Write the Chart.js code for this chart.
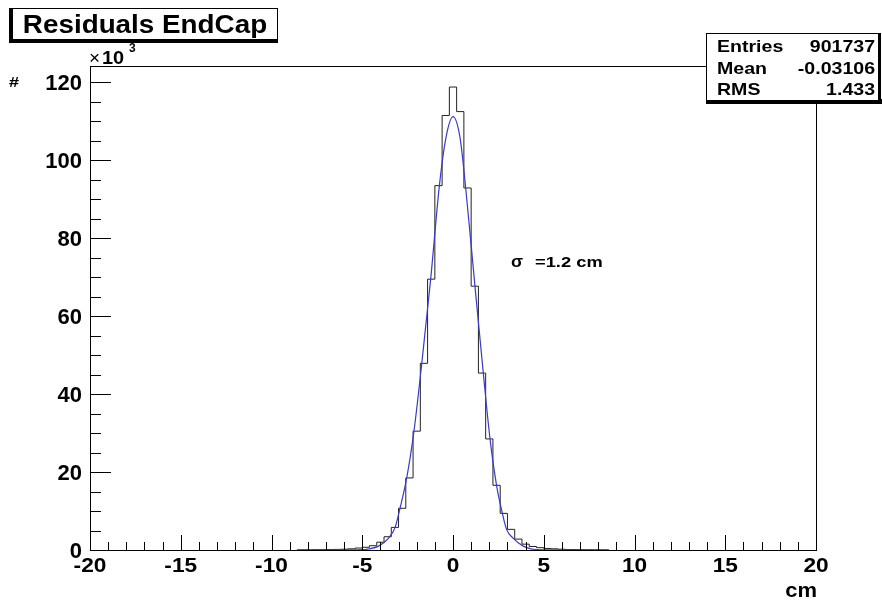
<!DOCTYPE html>
<html>
<head>
<meta charset="utf-8">
<script src="https://cdn.jsdelivr.net/npm/chart.js@4/dist/chart.umd.min.js"></script>
<style>
  body { margin: 0; background: #fff; }
  canvas { display: block; }
</style>
</head>
<body>
<canvas id="residuals_chart" width="882" height="603"></canvas>
<script>
// histogram bins (centres in cm, contents in thousands of entries)
var binCenters = [-8.4, -8.0, -7.6, -7.2, -6.8, -6.4, -6.0, -5.6, -5.2, -4.8, -4.4, -4.0, -3.6, -3.2, -2.8, -2.4, -2.0, -1.6, -1.2, -0.8, -0.4,
                  0.0, 0.4, 0.8, 1.2, 1.6, 2.0, 2.4, 2.8, 3.2, 3.6, 4.0, 4.4, 4.8, 5.2, 5.6, 6.0, 6.4, 6.8, 7.2, 7.6, 8.0, 8.4];
var binCounts = [0.05, 0.05, 0.08, 0.1, 0.12, 0.15, 0.2, 0.3, 0.5, 0.7, 1.1, 2.0, 3.4, 5.8, 10.7, 18.5, 30.5, 47.9, 69.5, 93.5, 111.5,
                 118.8, 112.5, 92.9, 67.7, 45.4, 28.5, 16.6, 9.4, 5.3, 2.8, 1.5, 0.9, 0.6, 0.4, 0.3, 0.2, 0.12, 0.1, 0.08, 0.06, 0.05, 0.04];
var binWidth = 0.4;

// fitted curve
var fitX = [-8.5, -5.2, -4.6, -4.1, -3.56, -3.19, -2.92, -2.55, -2.15, -1.72, -1.23, -0.75, -0.38, 0.0, 0.38, 0.70, 1.21, 1.67, 2.04, 2.40, 2.72, 2.95, 3.32, 3.87, 4.3, 5.0, 8.5];
var fitY = [0.0, 0.05, 0.3, 1.0, 3.0, 5.8, 10.7, 18.5, 30.5, 47.9, 69.5, 93.5, 106.0, 111.2, 106.0, 92.9, 67.7, 45.4, 28.5, 16.6, 9.4, 5.3, 3.0, 1.0, 0.3, 0.05, 0.0];

var xTicks = [-20, -15, -10, -5, 0, 5, 10, 15, 20];
var yTicks = [0, 20, 40, 60, 80, 100, 120];

var statNames = ["Entries", "Mean", "RMS"];
var statValues = ["901737", "-0.03106", "1.433"];

var histPoints = [];
binCenters.forEach(function (c, i) {
  histPoints.push({ x: c - binWidth / 2, y: binCounts[i] });
});
histPoints.push({ x: binCenters[binCenters.length - 1] + binWidth / 2, y: binCounts[binCounts.length - 1] });

var fitPoints = fitX.map(function (x, i) { return { x: x, y: fitY[i] }; });

var FONT = '"Liberation Sans", Arial, Helvetica, sans-serif';

function text(ctx, str, x, y, size, align, sx, weight) {
  ctx.save();
  ctx.font = (weight || 'bold') + ' ' + size + 'px ' + FONT;
  ctx.textBaseline = 'alphabetic';
  ctx.textAlign = align;
  ctx.translate(x, y);
  ctx.scale(sx || 1, 1);
  ctx.fillText(str, 0, 0);
  ctx.restore();
}

var rootFrame = {
  id: 'rootFrame',
  afterDraw: function (chart) {
    var ctx = chart.ctx;
    var a = chart.chartArea;
    var xs = chart.scales.x, ys = chart.scales.y;
    ctx.save();
    ctx.strokeStyle = '#000';
    ctx.fillStyle = '#000';
    ctx.lineWidth = 1;

    // frame
    ctx.strokeRect(Math.round(a.left) + 0.5, Math.round(a.top) + 0.5, Math.round(a.right - a.left), Math.round(a.bottom - a.top));

    // x ticks (inside, upward)
    for (var v = -20; v <= 20; v++) {
      var px = Math.round(xs.getPixelForValue(v)) + 0.5;
      var len = (v % 5 === 0) ? 15 : 8;
      ctx.beginPath();
      ctx.moveTo(px, a.bottom);
      ctx.lineTo(px, a.bottom - len);
      ctx.stroke();
    }
    // y ticks (inside, to the right)
    for (var w = 0; w <= 120; w += 5) {
      var py = Math.round(ys.getPixelForValue(w)) + 0.5;
      var l2 = (w % 20 === 0) ? 21 : 11;
      ctx.beginPath();
      ctx.moveTo(a.left, py);
      ctx.lineTo(a.left + l2, py);
      ctx.stroke();
    }

    // tick labels
    xTicks.forEach(function (t) {
      text(ctx, String(t), xs.getPixelForValue(t), 572, 21, 'center', 1.08);
    });
    yTicks.forEach(function (t) {
      text(ctx, String(t), 82, ys.getPixelForValue(t) + 8, 22, 'right', 1);
    });

    // axis titles
    text(ctx, 'cm', 817, 597, 20, 'right', 1.1);
    text(ctx, '#', 9, 87, 15, 'left', 1.2);
    text(ctx, '\u00d7', 89, 64, 19, 'left', 1, 'normal');
    text(ctx, '10', 102, 64, 19, 'left', 1.05);
    text(ctx, '3', 129, 52, 12, 'left', 1);

    // sigma annotation
    text(ctx, '\u03c3', 511, 267, 16, 'left', 1.1);
    text(ctx, '=1.2 cm', 535, 267, 15, 'left', 1.22);

    // title box
    ctx.fillStyle = '#000';
    ctx.fillRect(9, 38, 269, 5);
    ctx.fillRect(9, 8, 4, 35);
    ctx.fillStyle = '#fff';
    ctx.fillRect(12, 8, 266, 32);
    ctx.strokeRect(12.5, 8.5, 265, 31);
    ctx.fillStyle = '#000';
    text(ctx, 'Residuals EndCap', 145, 33, 26, 'center', 1.07);

    // stats box
    ctx.fillStyle = '#000';
    ctx.fillRect(706, 99, 176, 5);
    ctx.fillStyle = '#fff';
    ctx.fillRect(706, 33, 173, 68);
    ctx.strokeRect(706.5, 33.5, 172, 67);
    ctx.fillStyle = '#000';
    ctx.fillRect(878, 33, 3, 70);
    var rows = [52, 73.5, 95];
    statNames.forEach(function (n, i) {
      text(ctx, n, 717, rows[i], 17, 'left', 1.15);
      text(ctx, statValues[i], 875, rows[i], 17, 'right', 1.15);
    });
    ctx.restore();
  }
};

var ctx = document.getElementById('residuals_chart').getContext('2d');
var chartInstance = new Chart(ctx, {
  type: 'line',
  data: {
    datasets: [
      {
        label: 'fit',
        data: fitPoints,
        borderColor: '#3a3ac8',
        borderWidth: 1.2,
        pointRadius: 0,
        fill: false,
        cubicInterpolationMode: 'monotone'
      },
      {
        label: 'residuals',
        data: histPoints,
        stepped: 'before',
        borderColor: '#222',
        borderWidth: 1,
        pointRadius: 0,
        fill: false
      }
    ]
  },
  options: {
    responsive: false,
    animation: false,
    devicePixelRatio: 1,
    layout: { padding: { left: 90, right: 66, top: 66, bottom: 53 } },
    plugins: { legend: { display: false }, tooltip: { enabled: false } },
    scales: {
      x: { type: 'linear', min: -20, max: 20, display: false },
      y: { type: 'linear', min: 0, max: 124.2, display: false }
    }
  },
  plugins: [rootFrame]
});
</script>
</body>
</html>
